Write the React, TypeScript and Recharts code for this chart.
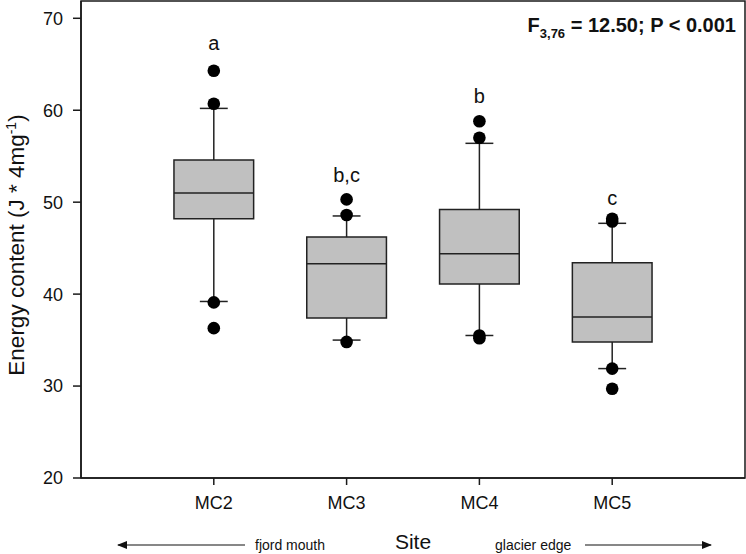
import React from 'react';
import { ComposedChart, XAxis, YAxis, Scatter, ReferenceArea, ReferenceLine } from 'recharts';

const sites = ['MC2', 'MC3', 'MC4', 'MC5'];
const positions = [1, 2, 3, 4];
const whiskerLow = [39.2, 35.0, 35.5, 31.9];
const q1 = [48.2, 37.4, 41.1, 34.8];
const median = [51.0, 43.3, 44.4, 37.5];
const q3 = [54.6, 46.2, 49.2, 43.4];
const whiskerHigh = [60.2, 48.5, 56.4, 47.7];
const outliersMC2 = [64.3, 60.7, 39.1, 36.3];
const outliersMC3 = [50.3, 48.6, 34.8];
const outliersMC4 = [58.8, 57.0, 35.5, 35.2];
const outliersMC5 = [48.2, 47.9, 31.9, 29.7];
const letters = ['a', 'b,c', 'b', 'c'];
const letterHeights = [66.5, 52.2, 60.8, 49.7];
const yTicks = [20, 30, 40, 50, 60, 70];

const FONT = '"Liberation Sans", Arial, sans-serif';
const INK = '#1a1a1a';
const BOX_HALF = 0.3;
const CAP_HALF = 0.105;
const Y_TOP = 71.88;

const outlierData = [outliersMC2, outliersMC3, outliersMC4, outliersMC5].flatMap((vals, i) =>
  vals.map((v) => ({ x: positions[i], y: v }))
);
const letterData = positions.map((p, i) => ({ x: p, y: letterHeights[i], label: letters[i] }));

const Dot = (props: any) => <circle cx={props.cx} cy={props.cy} r={6.3} fill="#000" />;
const Letter = (props: any) => (
  <text x={props.cx} y={props.cy} textAnchor="middle" fontFamily={FONT} fontSize={20} fill="#111">
    {props.payload.label}
  </text>
);

const YLabel = () => (
  <text
    transform="translate(24, 245) rotate(-90)"
    textAnchor="middle"
    fontFamily={FONT}
    fontSize={22.5}
    fill="#111"
  >
    Energy content (J * 4mg
    <tspan fontSize={14} dy={-8}>-1</tspan>
    <tspan dy={8}>)</tspan>
  </text>
);

const XLabel = () => (
  <g>
    <defs>
      <marker id="arr" markerWidth="10" markerHeight="8" refX="9" refY="4" orient="auto" markerUnits="userSpaceOnUse">
        <path d="M0,0 L10,4 L0,8 Z" fill="#111" />
      </marker>
    </defs>
    <line x1={245} y1={545} x2={118} y2={545} stroke="#111" strokeWidth={1.2} markerEnd="url(#arr)" />
    <text x={255} y={550} fontFamily={FONT} fontSize={14} fill="#111">fjord mouth</text>
    <text x={413} y={549} textAnchor="middle" fontFamily={FONT} fontSize={21} fill="#111">Site</text>
    <text x={495} y={550} fontFamily={FONT} fontSize={14} fill="#111">glacier edge</text>
    <line x1={585} y1={545} x2={711} y2={545} stroke="#111" strokeWidth={1.2} markerEnd="url(#arr)" />
    <text x={736} y={32} textAnchor="end" fontFamily={FONT} fontSize={20} fontWeight="bold" fill="#111">
      F<tspan fontSize={13} dy={6}>3,76</tspan>
      <tspan dy={-6}> = 12.50; P &lt; 0.001</tspan>
    </text>
  </g>
);

export default function App() {
  return (
    <div style={{ position: 'absolute', left: 0, top: 0, width: 746, height: 554, background: '#fff' }}>
      <ComposedChart width={746} height={554} margin={{ top: 1, right: 1, left: 0, bottom: 36 }}>
        <XAxis
          type="number"
          dataKey="x"
          domain={[0, 5]}
          ticks={positions}
          tickFormatter={(v: number) => sites[v - 1]}
          height={40}
          tickSize={7}
          tickMargin={11}
          stroke={INK}
          strokeWidth={1.5}
          tick={{ fontFamily: FONT, fontSize: 18, fill: '#111' }}
          label={{ content: () => <XLabel /> }}
          allowDataOverflow
        />
        <YAxis
          type="number"
          domain={[20, Y_TOP]}
          ticks={yTicks}
          width={81}
          tickSize={8}
          tickMargin={10}
          stroke={INK}
          strokeWidth={1.5}
          tick={{ fontFamily: FONT, fontSize: 18, fill: '#111' }}
          label={{ content: () => <YLabel /> }}
          allowDataOverflow
        />
        <ReferenceArea x1={0} x2={5} y1={20} y2={Y_TOP} fill="none" stroke={INK} strokeWidth={1.5} />
        {positions.map((p, i) => (
          <ReferenceLine
            key={`wu${i}`}
            segment={[{ x: p, y: q3[i] }, { x: p, y: whiskerHigh[i] }]}
            stroke="#222"
            strokeWidth={1.5}
          />
        ))}
        {positions.map((p, i) => (
          <ReferenceLine
            key={`wl${i}`}
            segment={[{ x: p, y: q1[i] }, { x: p, y: whiskerLow[i] }]}
            stroke="#222"
            strokeWidth={1.5}
          />
        ))}
        {positions.map((p, i) => (
          <ReferenceLine
            key={`cu${i}`}
            segment={[{ x: p - CAP_HALF, y: whiskerHigh[i] }, { x: p + CAP_HALF, y: whiskerHigh[i] }]}
            stroke="#222"
            strokeWidth={1.5}
          />
        ))}
        {positions.map((p, i) => (
          <ReferenceLine
            key={`cl${i}`}
            segment={[{ x: p - CAP_HALF, y: whiskerLow[i] }, { x: p + CAP_HALF, y: whiskerLow[i] }]}
            stroke="#222"
            strokeWidth={1.5}
          />
        ))}
        {positions.map((p, i) => (
          <ReferenceArea
            key={`b${i}`}
            x1={p - BOX_HALF}
            x2={p + BOX_HALF}
            y1={q1[i]}
            y2={q3[i]}
            fill="#c0c0c0"
            fillOpacity={1}
            stroke="#222"
            strokeWidth={1.5}
          />
        ))}
        {positions.map((p, i) => (
          <ReferenceLine
            key={`m${i}`}
            segment={[{ x: p - BOX_HALF, y: median[i] }, { x: p + BOX_HALF, y: median[i] }]}
            stroke="#222"
            strokeWidth={1.5}
          />
        ))}
        <Scatter data={outlierData} dataKey="y" shape={<Dot />} isAnimationActive={false} />
        <Scatter data={letterData} dataKey="y" shape={<Letter />} isAnimationActive={false} />
      </ComposedChart>
    </div>
  );
}
